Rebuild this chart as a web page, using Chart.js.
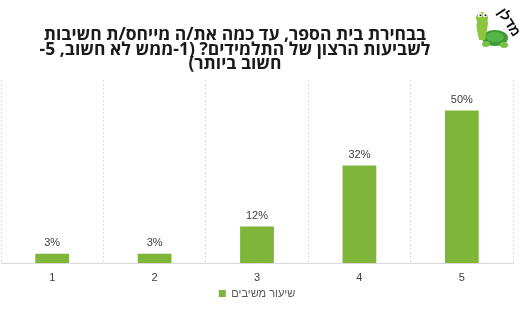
<!DOCTYPE html>
<html>
<head>
<meta charset="utf-8">
<script src="https://cdn.jsdelivr.net/npm/chart.js@4/dist/chart.umd.min.js"></script>
<style>
  html, body { margin: 0; padding: 0; background: #ffffff; }
  #wrap { position: relative; width: 525px; height: 328px; overflow: hidden; }
  #c { position: absolute; left: 0; top: 0; }
  #title {
    position: absolute; left: 20px; top: 26px; width: 430px;
    direction: rtl; text-align: center;
    font-family: "Open Sans", "Liberation Sans", "DejaVu Sans", sans-serif;
    font-weight: bold; font-size: 17.5px; line-height: 14.5px; color: #1a1a1a;
  }
  #logo { position: absolute; left: 466px; top: 2px; }
</style>
</head>
<body>
<div id="wrap">
  <canvas id="c" width="525" height="328"></canvas>
  <div id="title">בבחירת בית הספר, עד כמה את/ה מייחס/ת חשיבות<br>לשביעות הרצון של התלמידים? (1-ממש לא חשוב, 5-<br>חשוב ביותר)</div>
  <svg id="logo" width="58" height="52" viewBox="0 0 58 52">
    <ellipse cx="29" cy="36" rx="13" ry="8" fill="#3f9a3a"/>
    <ellipse cx="29" cy="35" rx="9" ry="5" fill="#56b548"/>
    <ellipse cx="20" cy="42" rx="4" ry="3" fill="#7cc242"/>
    <ellipse cx="38" cy="43" rx="4" ry="3" fill="#7cc242"/>
    <path d="M11 28 Q9 20 14 16 Q21 13 22 21 Q21 31 19 38 L13 38 Z" fill="#8cc63f"/>
    <circle cx="16" cy="16" r="6" fill="#8cc63f"/>
    <circle cx="14" cy="13" r="2.3" fill="#fff"/>
    <circle cx="19" cy="13" r="2.3" fill="#fff"/>
    <circle cx="14.5" cy="13.3" r="1" fill="#222"/>
    <circle cx="19.5" cy="13.3" r="1" fill="#222"/>
    <text x="0" y="0" transform="translate(31,10) rotate(57)" font-family="Liberation Sans, DejaVu Sans, sans-serif" font-size="14" font-weight="bold" fill="#111" text-anchor="start">מדלן</text>
  </svg>
</div>
<script>
const categories = ['1', '2', '3', '4', '5'];
const seriesName = 'שיעור משיבים';
const seriesValues = [3, 3, 12, 32, 50];
const yMax = 60;

const valueLabels = {
  id: 'valueLabels',
  afterDatasetsDraw(chart) {
    const ctx = chart.ctx;
    ctx.save();
    ctx.font = '11px "Liberation Sans", "DejaVu Sans", sans-serif';
    ctx.fillStyle = '#404040';
    ctx.textAlign = 'center';
    ctx.textBaseline = 'bottom';
    chart.getDatasetMeta(0).data.forEach((bar, i) => {
      ctx.fillText(chart.data.datasets[0].data[i] + '%', bar.x, bar.y - 5);
    });
    ctx.restore();
  }
};

new Chart(document.getElementById('c'), {
  type: 'bar',
  data: {
    labels: categories,
    datasets: [{
      label: seriesName,
      data: seriesValues,
      backgroundColor: '#7fb539',
      borderWidth: 0,
      categoryPercentage: 1,
      barPercentage: 0.33
    }]
  },
  options: {
    responsive: false,
    animation: false,
    devicePixelRatio: 1,
    layout: { padding: { top: 80, left: 1, right: 12, bottom: 19 } },
    plugins: {
      title: { display: false },
      tooltip: { enabled: false },
      legend: {
        position: 'bottom',
        labels: {
          boxWidth: 7, boxHeight: 7, padding: 2,
          color: '#595959',
          font: { size: 11, family: '"Liberation Sans", "DejaVu Sans", sans-serif' }
        }
      }
    },
    scales: {
      x: {
        offset: true,
        afterFit(scale) { scale.height = 23; },
        grid: { display: true, offset: true, drawTicks: false, color: '#dcdcdc', lineWidth: 1 },
        border: { display: true, color: '#d9d9d9', dash: [2, 2] },
        ticks: { color: '#404040', padding: 8, font: { size: 11, family: '"Liberation Sans", "DejaVu Sans", sans-serif' } }
      },
      y: {
        display: false,
        min: 0, max: yMax
      }
    }
  },
  plugins: [valueLabels]
});
</script>
</body>
</html>
